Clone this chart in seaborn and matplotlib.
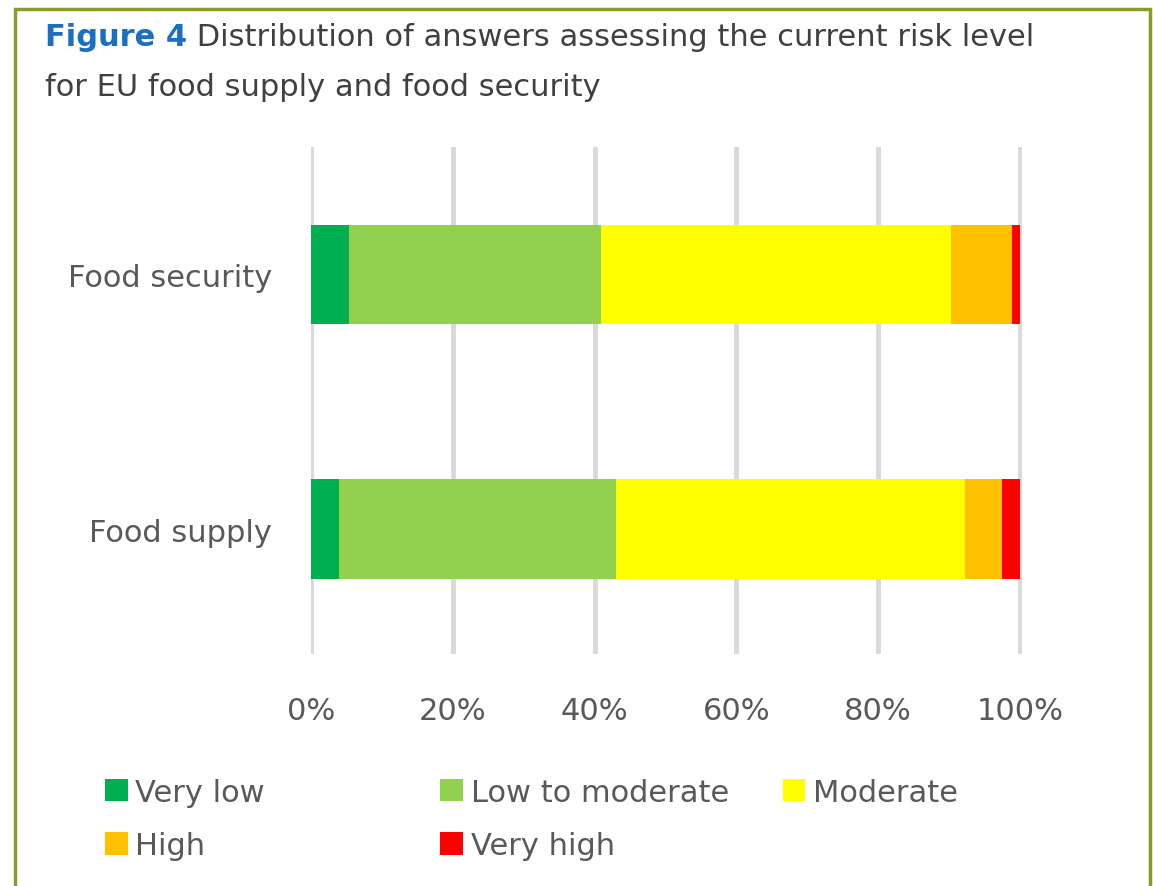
import pandas as pd
import seaborn as sns
import matplotlib.pyplot as plt
from matplotlib.patches import Patch, Rectangle

# Datos (porcentaje de respuestas)
categorias = ['Food security', 'Food supply']
niveles = ['Very low', 'Low to moderate', 'Moderate', 'High', 'Very high']
very_low = [5.4, 3.9]
low_to_moderate = [35.5, 39.1]
moderate = [49.4, 49.2]
high = [8.6, 5.3]
very_high = [1.1, 2.5]
colores = ['#00b050', '#92d050', '#ffff00', '#ffc000', '#ff0000']
ticks = [0, 20, 40, 60, 80, 100]

df = pd.DataFrame({
    'Categoria': categorias,
    'Very low': very_low,
    'Low to moderate': low_to_moderate,
    'Moderate': moderate,
    'High': high,
    'Very high': very_high,
})

# Acumulados para apilar las barras
acum = df[niveles].cumsum(axis=1)
acum['Categoria'] = df['Categoria']

sns.set_style('white')
plt.rcParams['font.family'] = ['DejaVu Sans']

fig = plt.figure(figsize=(11.53, 8.87), dpi=100)
ax = fig.add_axes([0.2697, 0.2616, 0.6167, 0.5716])

# Se dibuja del acumulado mayor al menor para que queden apiladas
for nivel, color in reversed(list(zip(niveles, colores))):
    sns.barplot(data=acum, y='Categoria', x=nivel, orient='h', color=color,
                width=0.39, saturation=1, linewidth=0, ax=ax, zorder=2)

ax.set_xlim(0, 100.3)
ax.set_ylim(1.49, -0.5)
ax.set_xticks(ticks)
ax.set_xticklabels([f'{t}%' for t in ticks])
ax.set_xlabel('')
ax.set_ylabel('')
ax.grid(axis='x', color='#d9d9d9', linewidth=3.5, zorder=0)
ax.set_axisbelow(True)
sns.despine(ax=ax, left=True, bottom=True)
ax.tick_params(axis='x', length=0, pad=30, labelsize=22, labelcolor='#595959')
ax.tick_params(axis='y', length=0, pad=28, labelsize=22, labelcolor='#595959')

# Titulo
t1 = fig.text(0.039, 0.958, 'Figure 4', fontsize=22, fontweight='bold', color='#1a6fc0',
              va='center')
ax.annotate(' Distribution of answers assessing the current risk level',
            xy=(1, 0.5), xycoords=t1, va='center', ha='left',
            fontsize=22, color='#404040', annotation_clip=False)
fig.text(0.039, 0.901, 'for EU food supply and food security',
         fontsize=22, color='#404040', va='center')

# Leyenda (dos bloques para reproducir la disposicion)
handles = [Patch(facecolor=c, edgecolor='none') for c in colores]
leg_kw = dict(frameon=False, fontsize=22, handlelength=0.75, handleheight=0.75,
              handletextpad=0.25, labelspacing=0.8, labelcolor='#595959')
fig.legend([handles[0], handles[3]], [niveles[0], niveles[3]], ncol=1,
           loc='upper left', bbox_to_anchor=(0.067, 0.153), **leg_kw)
fig.legend([handles[1], handles[4], handles[2]], [niveles[1], niveles[4], niveles[2]],
           ncol=2, columnspacing=1.75, loc='upper left', bbox_to_anchor=(0.358, 0.153), **leg_kw)

# Marco verde oliva
fig.add_artist(Rectangle((15 / 1153, -0.05), (1150 - 15) / 1153, 1 - 10 / 887 + 0.05,
                         transform=fig.transFigure, fill=False, edgecolor='#8c9a2c',
                         linewidth=2.5))

fig.savefig('out.png', dpi=100)
